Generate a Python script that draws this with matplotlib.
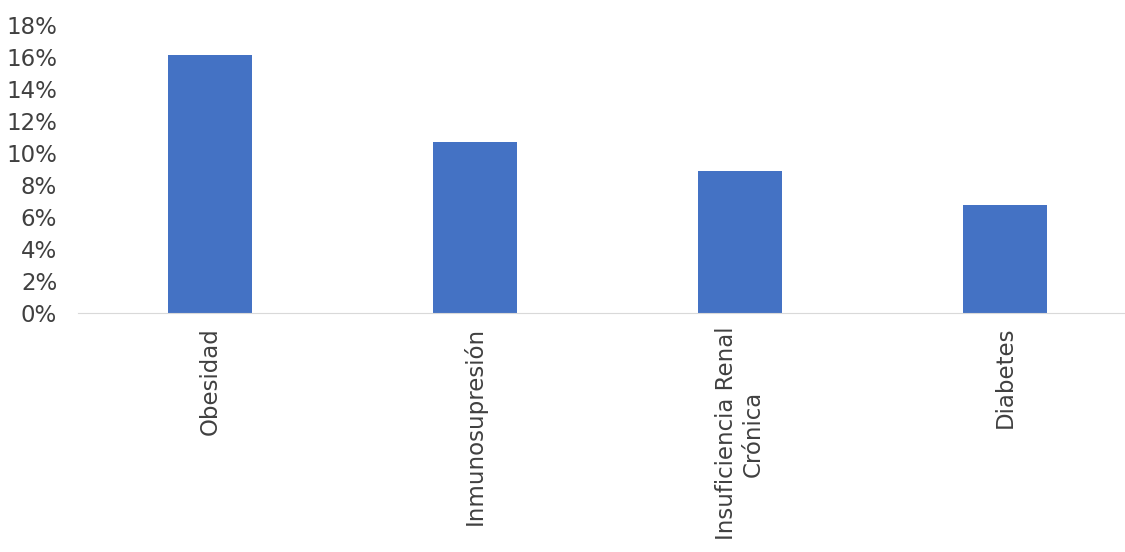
import matplotlib.pyplot as plt
from matplotlib.ticker import FuncFormatter

categories = ['Obesidad', 'Inmunosupresión', 'Insuficiencia Renal\nCrónica', 'Diabetes']
values = [0.161, 0.107, 0.089, 0.0675]

plt.rcParams['font.family'] = ['DejaVu Sans']

fig = plt.figure(figsize=(11.25, 5.52), dpi=100)
ax = fig.add_axes([78 / 1125, 1 - 313 / 552, 1 - 78 / 1125, 288 / 552])

x = range(len(categories))
ax.bar(x, values, width=0.32, color='#4472C4')
ax.set_xlim(-0.498, 3.453)
ax.set_ylim(0, 0.18)
ax.set_yticks([i * 0.02 for i in range(10)])
ax.yaxis.set_major_formatter(FuncFormatter(lambda v, p: f'{v * 100:.0f}%'))
ax.set_xticks(list(x))
ax.set_xticklabels(categories, rotation=90, va='top', ha='center', multialignment='center')
ax.tick_params(axis='both', length=0, labelsize=16.5, colors='#404040')
ax.tick_params(axis='y', pad=15)
ax.tick_params(axis='x', pad=10)
for s in ['top', 'right', 'left']:
    ax.spines[s].set_visible(False)
ax.spines['bottom'].set_color('#D9D9D9')

fig.savefig('out.png', dpi=100)
